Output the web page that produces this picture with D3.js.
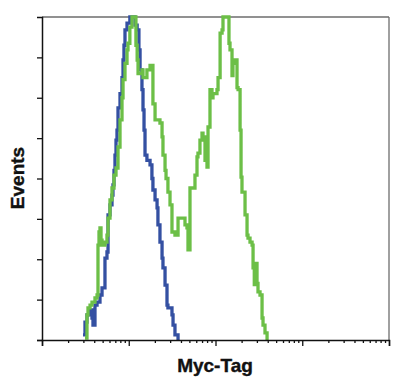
<!DOCTYPE html>
<html>
<head>
<meta charset="utf-8">
<script src="https://cdn.jsdelivr.net/npm/d3@7"></script>
<style>
  body { margin: 0; background: #ffffff; }
  .axis_label { font-family: "Liberation Sans Narrow", "Arial Narrow", "Liberation Sans", sans-serif; font-weight: bold; font-size: 19px; fill: #111; stroke: #111; stroke-width: 0.4; }
</style>
</head>
<body>
<script>
// x = Myc-Tag intensity, y = events
var blue_x = [2.97, 3.13, 3.30, 3.58, 3.77, 3.87, 4.08, 4.31, 4.66, 4.92, 5.32, 5.61, 5.77, 6.08, 6.41, 6.58, 6.76, 6.94, 7.13, 7.32, 7.52, 7.93, 8.36, 8.59, 8.81, 9.05, 9.55, 10.3, 11.2, 11.8, 12.5, 13.1, 13.5, 14.2, 14.6, 15.0, 15.4, 16.2, 17.6, 18.5, 19.0, 20.1, 21.2, 21.7, 22.9, 24.2, 24.8, 26.2, 27.6, 28.3, 31.5, 32.4, 34.1, 37.0];
var blue_y = [2.5, 8.9, 12.4, 14.9, 10.9, 7.4, 17.3, 18.8, 22.3, 25.8, 40.6, 43.6, 62, 66.9, 71.8, 76.8, 84, 91.6, 99, 104, 115, 122, 130, 138.7, 146, 153.6, 157, 160, 160, 156, 153.6, 143.7, 133.8, 124, 114, 104, 91.6, 89, 86.7, 80, 74.3, 69.4, 65.4, 57, 48.5, 40.6, 35.7, 27.2, 17.3, 15.9, 12.4, 7.4, 2.5, 0];

var green_x = [3.13, 3.30, 3.39, 3.58, 3.77, 4.08, 4.31, 4.42, 4.54, 4.66, 4.79, 4.92, 5.32, 5.61, 5.77, 6.08, 6.41, 6.76, 7.13, 7.52, 7.93, 8.36, 8.59, 9.05, 9.55, 9.80, 10.3, 10.9, 11.8, 12.1, 12.5, 12.8, 14.2, 14.6, 16.2, 17.6, 19.0, 20.1, 22.9, 24.2, 24.8, 26.2, 26.9, 28.3, 29.9, 31.5, 34.1, 37.0, 41.1, 44.5, 46.9, 48.2, 50.8, 58.0, 61.2, 62.8, 66.2, 69.9, 71.8, 75.7, 79.8, 82.0, 86.4, 91.1, 93.6, 104, 107, 113, 119, 122, 139, 143, 147, 155, 159, 168, 177, 182, 192, 197, 202, 219, 231, 237, 250, 264, 271, 280, 290, 301, 309, 326, 344, 353, 372, 393];
var green_y = [1, 12.4, 15.9, 17.3, 18.8, 20.8, 22.3, 47, 53.5, 55.5, 49.5, 47, 48.5, 52, 60.4, 69.4, 75.3, 81.7, 85.2, 95.6, 109, 120, 129, 137, 143.7, 147, 155, 160, 160, 146, 138.7, 132, 133.8, 130, 133.8, 136, 117, 109, 107.5, 100.6, 91.6, 84, 80, 73.3, 66.9, 53.5, 52, 60.4, 60.4, 57, 55.5, 44.6, 75.3, 81.7, 90.7, 92.6, 99, 102.5, 100.6, 89, 85.7, 105.5, 124, 120, 122, 124, 130, 152, 153.6, 160, 160, 147, 143.7, 131, 137, 138.7, 125, 124, 104, 80.7, 73.3, 62, 52, 50.5, 48.5, 47, 35.7, 27.5, 38, 28, 23.8, 22.3, 10.9, 7.4, 3.5, 0];

var x_domain = [1, 10000];
var y_domain = [0, 160];
var y_ticks = [0, 20, 40, 60, 80, 100, 120, 140];
var x_label = "Myc-Tag";
var y_label = "Events";

var w = 393, h = 381;
var margin = {left: 42, right: 4, top: 17, bottom: 41};

var svg = d3.select("body").append("svg")
  .attr("width", w)
  .attr("height", h);

var x = d3.scaleLog().domain(x_domain).range([margin.left, w - margin.right]);
var y = d3.scaleLinear().domain(y_domain).range([h - margin.bottom, margin.top]);

// frame top / right (grey)
svg.append("line")
  .attr("x1", margin.left).attr("x2", w - margin.right)
  .attr("y1", margin.top).attr("y2", margin.top)
  .style("stroke", "#6d6d6d").style("stroke-width", 1.3);
svg.append("line")
  .attr("x1", w - margin.right).attr("x2", w - margin.right)
  .attr("y1", margin.top).attr("y2", h - margin.bottom)
  .style("stroke", "#6d6d6d").style("stroke-width", 1.3);

// histograms
var line = d3.line()
  .x(function(d){ return x(d[0]); })
  .y(function(d){ return y(d[1]); })
  .curve(d3.curveStepAfter);

var blue_data = blue_x.map(function(v, i){ return [v, blue_y[i]]; });
var green_data = green_x.map(function(v, i){ return [v, green_y[i]]; });

svg.append("path")
  .datum(blue_data)
  .attr("d", line)
  .style("fill", "none")
  .style("stroke", "#3450a2")
  .style("stroke-width", 3.3);

svg.append("path")
  .datum(green_data)
  .attr("d", line)
  .style("fill", "none")
  .style("stroke", "#6cbf47")
  .style("stroke-width", 3.3);

// y axis
var y_axis = svg.append("g")
  .attr("transform", "translate(" + margin.left + ",0)")
  .call(d3.axisLeft(y).tickValues(y_ticks).tickSize(5).tickFormat(""));

// x axis, log ticks
var x_major = [1, 10, 100, 1000, 10000];
var x_minor = [];
for(i = 0; i < 4; i ++){
  for(k = 2; k < 10; k ++){
    x_minor.push(k * Math.pow(10, i));
  }
}
var x_axis = svg.append("g")
  .attr("transform", "translate(0," + (h - margin.bottom) + ")")
  .call(d3.axisBottom(x).tickValues(x_major).tickSize(6).tickFormat(""));
svg.append("g")
  .attr("transform", "translate(0," + (h - margin.bottom) + ")")
  .call(d3.axisBottom(x).tickValues(x_minor).tickSize(3).tickFormat(""))
  .select(".domain").remove();

svg.selectAll(".domain").style("stroke", "#111").style("stroke-width", 1.5);
svg.selectAll(".tick line").style("stroke", "#111").style("stroke-width", 1.3);

// labels
svg.append("text")
  .attr("class", "axis_label")
  .attr("x", 215)
  .attr("y", 372)
  .attr("text-anchor", "middle")
  .text(x_label);

svg.append("text")
  .attr("class", "axis_label")
  .attr("transform", "translate(24,178) rotate(-90)")
  .attr("text-anchor", "middle")
  .text(y_label);
</script>
</body>
</html>
